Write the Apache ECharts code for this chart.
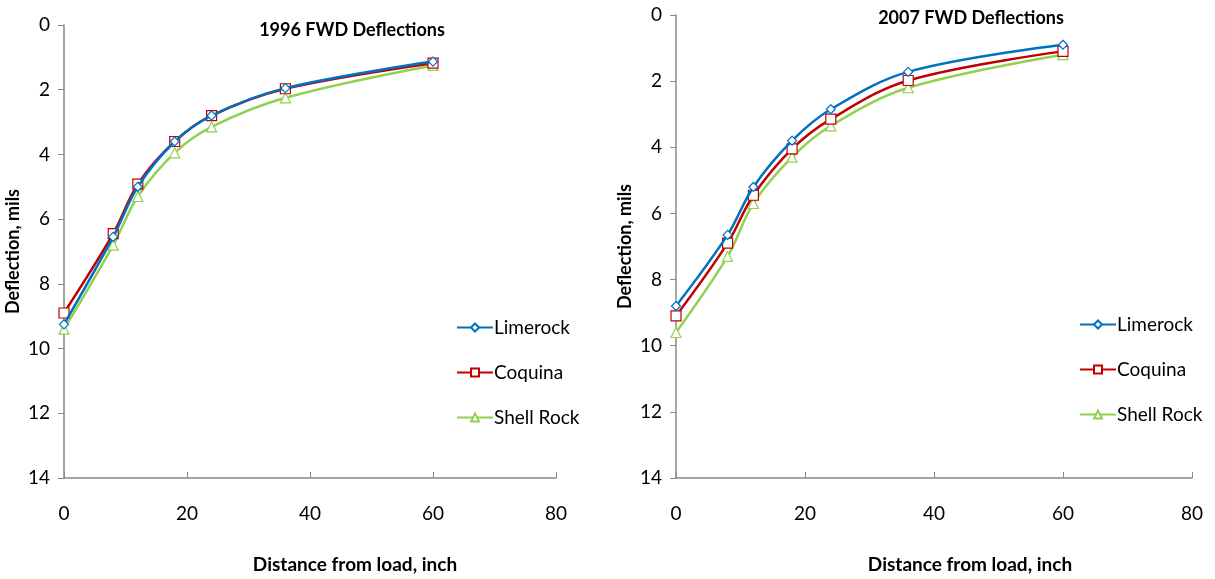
<!DOCTYPE html>
<html>
<head>
<meta charset="utf-8">
<script src="https://cdn.jsdelivr.net/npm/echarts@6/dist/echarts.min.js"></script>
<style>
  html, body { margin: 0; padding: 0; background: #fff; }
  #chart { width: 1215px; height: 579px; }
</style>
</head>
<body>
<div id="chart"></div>
<script>
// distance from load, inch
const distances = [0, 8, 12, 18, 24, 36, 60];

// 1996 deflections, mils
const limerock1996 = [9.25, 6.55, 5.0, 3.6, 2.8, 1.95, 1.13];
const coquina1996 = [8.9, 6.45, 4.92, 3.6, 2.8, 1.97, 1.18];
const shellRock1996 = [9.4, 6.8, 5.3, 3.95, 3.15, 2.25, 1.25];

// 2007 deflections, mils
const limerock2007 = [8.8, 6.65, 5.2, 3.8, 2.85, 1.72, 0.9];
const coquina2007 = [9.1, 6.9, 5.45, 4.05, 3.15, 1.98, 1.1];
const shellRock2007 = [9.6, 7.3, 5.7, 4.3, 3.35, 2.2, 1.2];

const seriesNames = ["Limerock", "Coquina", "Shell Rock"];
const titles = ["1996 FWD Deflections", "2007 FWD Deflections"];

const font = "Lato, 'Open Sans', sans-serif";
const colors = ["#0070c0", "#c00000", "#92d050"];
const symbols = ["diamond", "rect", "triangle"];

const chart = echarts.init(document.getElementById("chart"), undefined, { renderer: "canvas" });

const pair = (ys) => distances.map((x, i) => [x, ys[i]]);

// the x title sits a bit right of the plot centre in the original
const makeX = (gridIndex, shift) => ({
  type: "value",
  gridIndex,
  min: 0,
  max: 80,
  interval: 20,
  name: "Distance from load, inch",
  nameLocation: "middle",
  nameGap: 77,
  nameTextStyle: { fontFamily: font, fontWeight: "bold", fontSize: 19, color: "#000", padding: [0, 0, 0, shift * 2] },
  axisLine: { onZero: false, lineStyle: { color: "#888", width: 1.5 } },
  axisTick: { inside: true, length: 6, lineStyle: { color: "#888" } },
  axisLabel: { fontFamily: font, fontSize: 19, color: "#000", margin: 26 },
  splitLine: { show: false },
});

const makeY = (gridIndex) => ({
  type: "value",
  gridIndex,
  inverse: true,
  min: 0,
  max: 14,
  interval: 2,
  name: "Deflection, mils",
  nameLocation: "middle",
  nameGap: 42,
  nameTextStyle: { fontFamily: font, fontWeight: "bold", fontSize: 18, color: "#000" },
  axisLine: { show: true, lineStyle: { color: "#888", width: 1.5 } },
  axisTick: { show: true, length: 6, lineStyle: { color: "#888" } },
  axisLabel: { fontFamily: font, fontSize: 19, color: "#000", margin: 14 },
  splitLine: { show: false },
});

const makeSeries = (name, idx, data, gridIdx) => ({
  name,
  type: "line",
  xAxisIndex: gridIdx,
  yAxisIndex: gridIdx,
  data: pair(data),
  smooth: 0.35,
  symbol: symbols[idx],
  symbolSize: idx === 0 ? 9 : 10,
  lineStyle: { color: colors[idx], width: 2.5 },
  itemStyle: { color: "#fff", borderColor: colors[idx], borderWidth: 1.2 },
  emphasis: { disabled: true },
  z: 3 - idx,
});

const makeLegend = (left, top) => ({
  orient: "vertical",
  left,
  top,
  itemWidth: 36,
  itemHeight: 10,
  itemGap: 26,
  data: seriesNames,
  textStyle: { fontFamily: font, fontSize: 19, color: "#000", padding: [0, 0, 0, -4] },
});

chart.setOption({
  animation: false,
  title: [
    { text: titles[0], left: 347, top: 16, textAlign: "center",
      textStyle: { fontFamily: font, fontWeight: "bold", fontSize: 18, color: "#000" } },
    { text: titles[1], left: 966, top: 4, textAlign: "center",
      textStyle: { fontFamily: font, fontWeight: "bold", fontSize: 18, color: "#000" } },
  ],
  grid: [
    { left: 64, top: 25, width: 492, height: 455 },
    { left: 676, top: 15, width: 516, height: 465 },
  ],
  xAxis: [makeX(0, 45), makeX(1, 36)],
  yAxis: [makeY(0), makeY(1)],
  legend: [makeLegend(451, 313), makeLegend(1074, 310)],
  series: [
    makeSeries(seriesNames[0], 0, limerock1996, 0),
    makeSeries(seriesNames[1], 1, coquina1996, 0),
    makeSeries(seriesNames[2], 2, shellRock1996, 0),
    makeSeries(seriesNames[0], 0, limerock2007, 1),
    makeSeries(seriesNames[1], 1, coquina2007, 1),
    makeSeries(seriesNames[2], 2, shellRock2007, 1),
  ],
});

window.addEventListener("resize", () => chart.resize());
</script>
</body>
</html>
